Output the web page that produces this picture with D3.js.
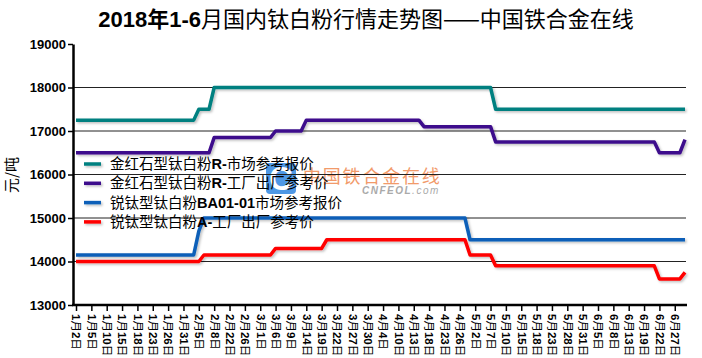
<!DOCTYPE html>
<html><head><meta charset="utf-8">
<script src="https://cdn.jsdelivr.net/npm/d3@7"></script>
<style>
body{margin:0;background:#fff;}
svg{display:block;font-family:"Liberation Sans","Noto Sans CJK SC",sans-serif;}
</style></head>
<body><svg id="c" width="702" height="358"></svg>
<script>
const titleText = "2018年1-6月国内钛白粉行情走势图——中国铁合金在线";
const yAxisTitle = "元/吨";
const yTicks = [13000,14000,15000,16000,17000,18000,19000];
const tickLabels = ["1月2日","1月5日","1月10日","1月15日","1月18日","1月23日","1月26日","1月31日","2月5日","2月8日",
"2月22日","2月26日","3月1日","3月6日","3月9日","3月14日","3月19日","3月22日","3月27日","3月30日",
"4月4日","4月10日","4月13日","4月18日","4月23日","4月26日","5月2日","5月7日","5月10日","5月15日",
"5月18日","5月23日","5月28日","5月31日","6月5日","6月8日","6月13日","6月19日","6月22日","6月27日"];
const seriesNames = [["金红石型钛白粉","R-","市场参考报价"],["金红石型钛白粉","R-","工厂出厂参考价"],["锐钛型钛白粉","BA01-01","市场参考报价"],["锐钛型钛白粉","A-","工厂出厂参考价"]];
// daily values (one per published day)
const rutileMarket = [
17250,17250,17250,17250,17250,17250,17250,17250,17250,17250,
17250,17250,17250,17250,17250,17250,17250,17250,17250,17250,
17250,17250,17250,17250,17500,17500,17500,18000,18000,18000,
18000,18000,18000,18000,18000,18000,18000,18000,18000,18000,
18000,18000,18000,18000,18000,18000,18000,18000,18000,18000,
18000,18000,18000,18000,18000,18000,18000,18000,18000,18000,
18000,18000,18000,18000,18000,18000,18000,18000,18000,18000,
18000,18000,18000,18000,18000,18000,18000,18000,18000,18000,
18000,18000,17500,17500,17500,17500,17500,17500,17500,17500,
17500,17500,17500,17500,17500,17500,17500,17500,17500,17500,
17500,17500,17500,17500,17500,17500,17500,17500,17500,17500,
17500,17500,17500,17500,17500,17500,17500,17500,17500,17500];
const rutileFactory = [
16500,16500,16500,16500,16500,16500,16500,16500,16500,16500,
16500,16500,16500,16500,16500,16500,16500,16500,16500,16500,
16500,16500,16500,16500,16500,16500,16500,16850,16850,16850,
16850,16850,16850,16850,16850,16850,16850,16850,16850,17000,
17000,17000,17000,17000,17000,17250,17250,17250,17250,17250,
17250,17250,17250,17250,17250,17250,17250,17250,17250,17250,
17250,17250,17250,17250,17250,17250,17250,17250,17100,17100,
17100,17100,17100,17100,17100,17100,17100,17100,17100,17100,
17100,17100,16750,16750,16750,16750,16750,16750,16750,16750,
16750,16750,16750,16750,16750,16750,16750,16750,16750,16750,
16750,16750,16750,16750,16750,16750,16750,16750,16750,16750,
16750,16750,16750,16750,16500,16500,16500,16500,16500,16800];
const anataseMarket = [
14150,14150,14150,14150,14150,14150,14150,14150,14150,14150,
14150,14150,14150,14150,14150,14150,14150,14150,14150,14150,
14150,14150,14150,14150,14700,15000,15000,15000,15000,15000,
15000,15000,15000,15000,15000,15000,15000,15000,15000,15000,
15000,15000,15000,15000,15000,15000,15000,15000,15000,15000,
15000,15000,15000,15000,15000,15000,15000,15000,15000,15000,
15000,15000,15000,15000,15000,15000,15000,15000,15000,15000,
15000,15000,15000,15000,15000,15000,15000,14500,14500,14500,
14500,14500,14500,14500,14500,14500,14500,14500,14500,14500,
14500,14500,14500,14500,14500,14500,14500,14500,14500,14500,
14500,14500,14500,14500,14500,14500,14500,14500,14500,14500,
14500,14500,14500,14500,14500,14500,14500,14500,14500,14500];
const anataseFactory = [
14000,14000,14000,14000,14000,14000,14000,14000,14000,14000,
14000,14000,14000,14000,14000,14000,14000,14000,14000,14000,
14000,14000,14000,14000,14000,14150,14150,14150,14150,14150,
14150,14150,14150,14150,14150,14150,14150,14150,14150,14300,
14300,14300,14300,14300,14300,14300,14300,14300,14300,14500,
14500,14500,14500,14500,14500,14500,14500,14500,14500,14500,
14500,14500,14500,14500,14500,14500,14500,14500,14500,14500,
14500,14500,14500,14500,14500,14500,14500,14150,14150,14150,
14150,14150,13900,13900,13900,13900,13900,13900,13900,13900,
13900,13900,13900,13900,13900,13900,13900,13900,13900,13900,
13900,13900,13900,13900,13900,13900,13900,13900,13900,13900,
13900,13900,13900,13900,13600,13600,13600,13600,13600,13750];
const seriesValues = [rutileMarket, rutileFactory, anataseMarket, anataseFactory];
const colors = ["#008080","#3c0a8c","#0a5fb8","#ff0000"];
const labelEvery = 3;

const svg = d3.select("#c");
const defs = svg.append("defs");
const f = defs.append("filter").attr("id","sh").attr("filterUnits","userSpaceOnUse")
  .attr("x",0).attr("y",0).attr("width",702).attr("height",358);
f.append("feDropShadow").attr("dx",1.5).attr("dy",1.5).attr("stdDeviation",0.8).attr("flood-color","#000").attr("flood-opacity",0.25);

const x = d3.scaleLinear().domain([0, rutileMarket.length-1]).range([76,685]);
const y = d3.scaleLinear().domain([13000,19000]).range([305,44]);

function addMixed(sel, str, boldLatin){
  const parts = str.match(/[\u4e00-\u9fff\u2014\u3000-\u303f\/]+|[^\u4e00-\u9fff\u2014\u3000-\u303f\/]+/g);
  parts.forEach(p=>{
    const cjk = /[\u4e00-\u9fff\u2014\/]/.test(p);
    sel.append("tspan").text(p)
      .style("font-family", cjk ? "'Noto Sans CJK SC'" : "'Liberation Sans'")
      .style("font-weight", cjk ? "normal" : (boldLatin?"bold":"normal"));
  });
}
// title
const t = svg.append("text").attr("x",366).attr("y",27).attr("text-anchor","middle").style("font-size","22px").attr("fill","#000");
addMixed(t, titleText, true);
t.selectAll("tspan").filter((d,i)=>i<2).style("font-weight","bold");

// watermark (behind the data)
const wm = svg.append("g");
wm.append("rect").attr("x",266).attr("y",163).attr("width",30).attr("height",31).attr("rx",4).attr("fill","#2f86e0").attr("opacity",0.85);
wm.append("text").attr("x",281).attr("y",190).attr("text-anchor","middle").style("font-size","33px").style("font-weight","bold")
  .style("font-family","'Liberation Sans'").attr("fill","#fff").text("C");
wm.append("text").attr("x",303).attr("y",183).style("font-size","18px").style("letter-spacing","1.8px")
  .style("font-family","'Noto Sans CJK SC'").attr("fill","#f29a6a").text("中国铁合金在线");
const cn = wm.append("text").attr("x",362).attr("y",194).style("font-size","10px").style("font-style","italic")
  .style("letter-spacing","1.5px").attr("fill","#aaa").style("font-family","'Liberation Sans'");
cn.append("tspan").style("font-weight","bold").text("CNFEOL");
cn.append("tspan").text(".com");

// gridlines
svg.append("g").selectAll("line").data(yTicks.filter(v=>v>13000 && v<19000)).join("line")
  .attr("x1",73).attr("x2",686).attr("y1",d=>y(d)).attr("y2",d=>y(d))
  .attr("stroke","#222").attr("stroke-width",1);

// y axis
const ya = svg.append("g").attr("transform","translate(73,0)")
  .call(d3.axisLeft(y).tickValues(yTicks).tickSize(5).tickSizeOuter(0).tickPadding(2).tickFormat(d3.format("d")));
ya.select(".domain").attr("stroke","#000").attr("stroke-width",2.5);
ya.selectAll(".tick line").attr("stroke","#000").attr("stroke-width",1.5);
ya.selectAll("text").style("font-size","13px").style("font-weight","bold").style("font-family","'Liberation Sans'").attr("fill","#000");

// x axis
const xa = svg.append("g").attr("transform","translate(0,305)")
  .call(d3.axisBottom(x).tickValues(d3.range(0, rutileMarket.length, labelEvery)).tickSize(6).tickSizeOuter(0)
    .tickFormat(i=>tickLabels[i/labelEvery]));
xa.select(".domain").attr("d","M72,0H687").attr("stroke","#000").attr("stroke-width",2.5);
xa.selectAll(".tick line").attr("stroke","#000").attr("stroke-width",1.5);
xa.selectAll(".tick text").each(function(){
  const s = d3.select(this); const txt = s.text(); s.text("");
  s.attr("transform","rotate(90)").attr("x",9).attr("y",0).attr("dy","0.36em").style("text-anchor","start")
   .style("font-size","11.5px").attr("fill","#000");
  addMixed(s, txt, true);
});

// y title
svg.append("text").attr("transform","translate(17,175) rotate(-90)").attr("text-anchor","middle")
  .style("font-size","15px").style("font-family","'Noto Sans CJK SC'").text(yAxisTitle);

// lines
const line = d3.line().x((d,i)=>x(i)).y(d=>y(d));
svg.append("g").selectAll("path").data(seriesValues).join("path")
  .attr("d",line).attr("fill","none").attr("stroke",(d,i)=>colors[i]).attr("stroke-width",3.5)
  .attr("stroke-linejoin","round").attr("filter","url(#sh)");

// legend
const lg = svg.append("g");
seriesNames.forEach((n,i)=>{
  const yy = 164 + i*19.3;
  lg.append("line").attr("x1",84).attr("x2",101).attr("y1",yy).attr("y2",yy).attr("stroke",colors[i]).attr("stroke-width",3.5).attr("filter","url(#sh)");
  const tx = lg.append("text").attr("x",110).attr("y",yy+5).style("font-size","14.5px").attr("fill","#000");
  tx.append("tspan").style("font-family","'Noto Sans CJK SC'").text(n[0]);
  tx.append("tspan").style("font-family","'Liberation Sans'").style("font-weight","bold").text(n[1]);
  tx.append("tspan").style("font-family","'Noto Sans CJK SC'").text(n[2]);
});
</script></body></html>
